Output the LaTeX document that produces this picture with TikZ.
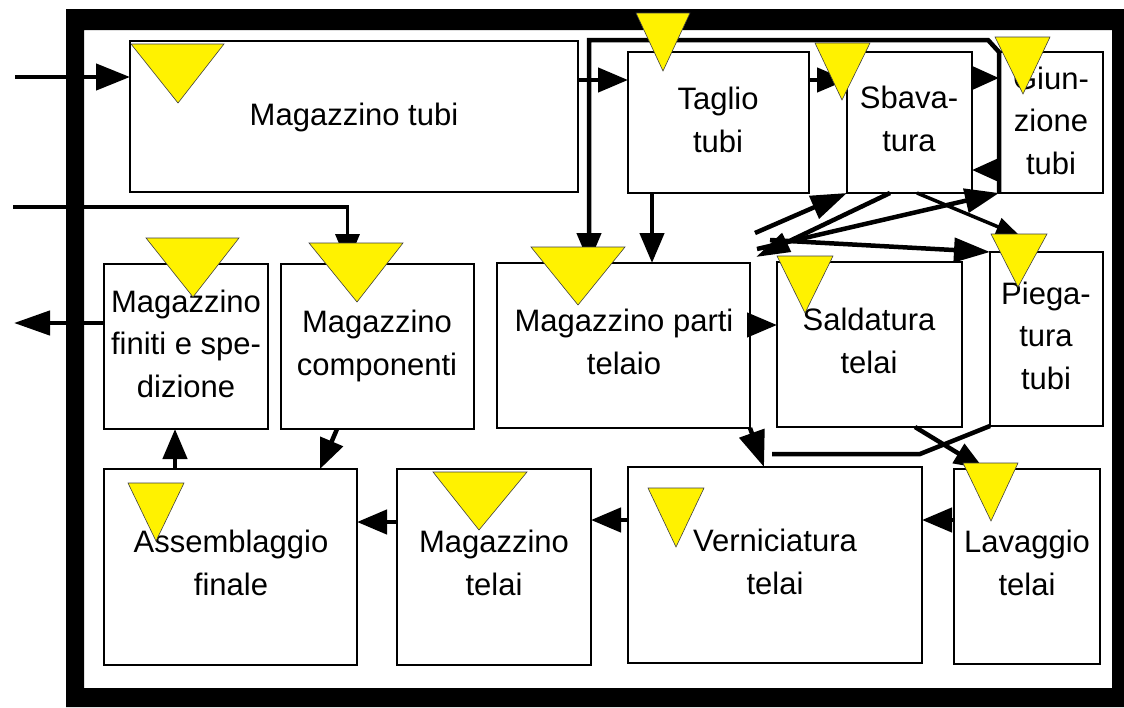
\documentclass[tikz,border=0pt]{standalone}
\usepackage{fontspec}
\setmainfont{Liberation Sans}
\usetikzlibrary{arrows.meta}
\begin{document}
\begin{tikzpicture}[x=1pt,y=-1pt,
  box/.style={draw, line width=1.4pt, inner sep=0pt, outer sep=0pt, anchor=north west},
  lbl/.style={anchor=base, align=center, inner sep=0pt, font=\fontsize{31}{42.5}\selectfont},
  flow/.style={line width=4.5pt, line join=miter, -{Triangle[length=30pt,width=24pt]}},
  shortflow/.style={line width=4.5pt, -{Triangle[length=26pt,width=22pt]}},
  plain/.style={line width=4.5pt, line join=miter},
  yellowtri/.style={fill=yellow, draw=black!75, line width=0.6pt, line join=miter}]
\useasboundingbox (0,0) rectangle (1124,707);
\fill[white] (0,0) rectangle (1124,707);
% heavy outer frame
\fill[black, even odd rule] (66,9) rectangle (1124,707) (84,30) rectangle (1112,688);

% workstations
\node[box, minimum width=448pt, minimum height=151pt] (tubi)   at (130,41)  {};
\node[box, minimum width=181pt, minimum height=141pt] (taglio) at (628,52)  {};
\node[box, minimum width=125pt, minimum height=141pt] (sbav)   at (847,52)  {};
\node[box, minimum width=104pt, minimum height=141pt] (giun)   at (999,52)  {};
\node[box, minimum width=164pt, minimum height=165pt] (finiti) at (104,264) {};
\node[box, minimum width=193pt, minimum height=165pt] (comp)   at (281,264) {};
\node[box, minimum width=253pt, minimum height=165pt] (mparti) at (497,263) {};
\node[box, minimum width=185pt, minimum height=165pt] (sald)   at (777,262) {};
\node[box, minimum width=113pt, minimum height=174pt] (pieg)   at (990,252) {};
\node[box, minimum width=253pt, minimum height=196pt] (assem)  at (104,469) {};
\node[box, minimum width=194pt, minimum height=196pt] (mtelai) at (397,469) {};
\node[box, minimum width=294pt, minimum height=196pt] (verni)  at (628,467) {};
\node[box, minimum width=146pt, minimum height=195pt] (lavag)  at (954,469) {};

% labels (placed at the baseline of their last line)
\node[lbl] (ltubi)   at (354,125)  {Magazzino tubi};
\node[lbl] (ltaglio) at (718,152)  {Taglio\\tubi};
\node[lbl] (lsbav)   at (909,151)  {Sbava-\\tura};
\node[lbl] (lgiun)   at (1051,174) {Giun-\\zione\\tubi};
\node[lbl] (lfiniti) at (186,397)  {Magazzino\\finiti e spe-\\dizione};
\node[lbl] (lcomp)   at (377,375)  {Magazzino\\componenti};
\node[lbl] (lmparti) at (624,374)  {Magazzino parti\\telaio};
\node[lbl] (lsald)   at (869,373)  {Saldatura\\telai};
\node[lbl] (lpieg)   at (1046,389) {Piega-\\tura\\tubi};
\node[lbl] (lassem)  at (231,595)  {Assemblaggio\\finale};
\node[lbl] (lmtelai) at (494,595)  {Magazzino\\telai};
\node[lbl] (lverni)  at (775,594)  {Verniciatura\\telai};
\node[lbl] (llavag)  at (1027,595) {Lavaggio\\telai};

% incoming and outgoing material
\coordinate (inA) at (15,77);
\coordinate (inB) at (13,207);
\coordinate (outA) at (14,323);
\draw[flow, -{Triangle[length=34pt,width=26pt]}] (inA) -- (tubi.west |- inA);
\draw[flow, line width=3.5pt] (inB) -| ([xshift=-30pt]comp.north);
\draw[flow, -{Triangle[length=36pt,width=24pt]}] (finiti.west |- outA) -- (outA);

% tube line
\draw[flow] (tubi.east |- 0,80) -- (taglio.west |- 0,80);
\draw[flow] (taglio.east |- 0,80) -- (sbav.west |- 0,80);
\draw[shortflow] (sbav.east |- 0,78) -- (giun.west |- 0,78);
\draw[shortflow] (giun.west |- 0,170) -- (sbav.east |- 0,170);
\draw[flow] (taglio.south -| 652,0) -- (mparti.north -| 652,0);
\draw[flow] (giun.south west) -- (giun.north west) -- (988,40) -- (589,40) -- (mparti.north -| 589,0);

% frame parts line
\draw[flow] (mparti.east |- 0,325) -- (sald.west |- 0,325);
\draw[flow, -{Triangle[length=36pt,width=24pt]}] (755,233) -- (sbav.south west);
\draw[flow, -{Triangle[length=34pt,width=20pt]}] (sbav.south -| 890,0) -- (756,257);
\draw[flow, -{Triangle[length=34pt,width=24pt]}] (757,249) -- (giun.south west);
\draw[flow, -{Triangle[length=36pt,width=24pt]}] (770,240) -- (pieg.north west);
\draw[flow, line width=3.5pt, -{Triangle[length=24pt,width=18pt]}] (sbav.south -| 917,0) -- (1020,236);
\draw[flow, -{Triangle[length=30pt,width=22pt]}] (sald.south -| 915,0) -- (lavag.north -| 984,0);
\draw[plain] (pieg.south west) -- (920,454) -- (772,454);
\draw[flow, -{Triangle[length=36pt,width=26pt]}] (mparti.south east) -- (verni.north -| 764,0);
\draw[flow] (lavag.west |- 0,520) -- (verni.east |- 0,520);
\draw[flow] (verni.west |- 0,520) -- (mtelai.east |- 0,520);
\draw[flow] (mtelai.west |- 0,522) -- (assem.east |- 0,522);
\draw[flow] (assem.north -| 175,0) -- (finiti.south -| 175,0);
\draw[flow] (comp.south -| 337,0) -- (assem.north -| 320,0);

% yellow markers
\draw[yellowtri] (131,44) -- (224,44) -- (178,103) -- cycle;
\draw[yellowtri] (636,13) -- (690,13) -- (663,71) -- cycle;
\draw[yellowtri] (815,43) -- (870,43) -- (842,100) -- cycle;
\draw[yellowtri] (995,37) -- (1050,37) -- (1023,94) -- cycle;
\draw[yellowtri] (146,238) -- (239,238) -- (193,297) -- cycle;
\draw[yellowtri] (309,243) -- (403,243) -- (357,302) -- cycle;
\draw[yellowtri] (531,247) -- (625,247) -- (578,305) -- cycle;
\draw[yellowtri] (777,256) -- (833,256) -- (805,313) -- cycle;
\draw[yellowtri] (991,234) -- (1047,234) -- (1018,287) -- cycle;
\draw[yellowtri] (128,483) -- (184,483) -- (156,541) -- cycle;
\draw[yellowtri] (433,472) -- (527,472) -- (479,530) -- cycle;
\draw[yellowtri] (648,488) -- (704,488) -- (676,547) -- cycle;
\draw[yellowtri] (963,463) -- (1018,463) -- (991,521) -- cycle;
\end{tikzpicture}
\end{document}
